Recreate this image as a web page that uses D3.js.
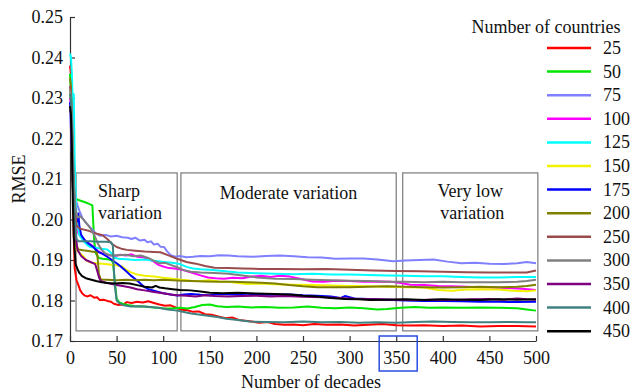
<!DOCTYPE html>
<html>
<head>
<meta charset="utf-8">
<script src="https://cdn.jsdelivr.net/npm/d3@7"></script>
<style>
  body { margin: 0; background: #fff; }
  text { font-family: "Liberation Serif", "Times New Roman", serif; fill: #111; }
</style>
</head>
<body>
<div id="chart"></div>
<script>
// number of countries (legend) and line colours
const counts = [25, 50, 75, 100, 125, 150, 175, 200, 250, 300, 350, 400, 450];
const colors = ["#ff0000", "#00e600", "#8080ff", "#ff00ff", "#00ffff", "#f2f200", "#0000ff",
  "#808000", "#9a4c4c", "#808080", "#800080", "#408080", "#000000"];

const xTicks = [0, 50, 100, 150, 200, 250, 300, 350, 400, 450, 500];
const yTicks = [0.17, 0.18, 0.19, 0.20, 0.21, 0.22, 0.23, 0.24, 0.25];

// RMSE per number of decades, [decade, rmse]
const s25 = [[0,0.238],[1,0.236],[2,0.225],[3,0.21],[4,0.196],[5,0.188],[7,0.185],[9,0.1838],[11,0.1825],[13,0.1818],[16,0.1812],[19,0.181],[22,0.1813],[26,0.1807],[29,0.1808],[32,0.1801],[36,0.1802],[40,0.1799],[44,0.1797],[47,0.1792],[52,0.1789],[57,0.179],[61,0.1796],[66,0.1794],[72,0.1797],[78,0.1795],[84,0.1798],[90,0.1794],[96,0.179],[102,0.1787],[108,0.1788],[114,0.1782],[120,0.1777],[126,0.1776],[132,0.1772],[138,0.1773],[145,0.1766],[152,0.1765],[160,0.176],[167,0.1756],[174,0.1758],[181,0.1752],[188,0.175],[195,0.1748],[203,0.1745],[212,0.1747],[220,0.1742],[230,0.174],[240,0.1741],[250,0.1739],[262,0.1742],[275,0.174],[290,0.1741],[305,0.1738],[320,0.174],[335,0.1742],[350,0.1739],[365,0.1738],[380,0.1739],[400,0.1737],[420,0.1738],[440,0.1736],[460,0.1737],[480,0.1737],[500,0.1736]];
const s50 = [[0,0.236],[1,0.232],[2,0.222],[3,0.213],[4,0.207],[5,0.2055],[6,0.2052],[9,0.2048],[13,0.2045],[17,0.2042],[21,0.2038],[24,0.2035],[25,0.199],[26,0.1945],[28,0.1915],[31,0.1905],[35,0.1903],[40,0.1902],[44,0.19],[46,0.1895],[48,0.185],[50,0.1805],[53,0.1795],[58,0.1791],[64,0.1788],[70,0.1786],[80,0.1785],[90,0.1783],[100,0.1781],[110,0.178],[118,0.1782],[126,0.178],[134,0.1784],[142,0.1789],[150,0.179],[158,0.1786],[168,0.1784],[180,0.1785],[195,0.1783],[210,0.1784],[225,0.1782],[240,0.1783],[255,0.1785],[270,0.1782],[285,0.1781],[300,0.1783],[315,0.1781],[330,0.1778],[340,0.1779],[355,0.1782],[370,0.1784],[385,0.1782],[400,0.1783],[420,0.1782],[440,0.1783],[460,0.1782],[480,0.1781],[490,0.1778],[500,0.1775]];
const s75 = [[0,0.226],[1,0.222],[2,0.217],[4,0.209],[6,0.205],[8,0.2035],[10,0.2022],[13,0.2005],[16,0.1995],[20,0.1985],[24,0.1975],[28,0.1965],[32,0.196],[38,0.1962],[44,0.1958],[50,0.196],[56,0.1956],[62,0.1955],[66,0.1952],[70,0.1955],[75,0.1948],[80,0.195],[83,0.1944],[87,0.1946],[90,0.1938],[94,0.194],[97,0.1933],[101,0.1932],[104,0.1922],[108,0.1912],[113,0.1908],[118,0.191],[125,0.1907],[132,0.1908],[140,0.191],[150,0.1909],[160,0.1912],[170,0.1911],[180,0.1909],[195,0.1908],[210,0.191],[225,0.1911],[240,0.1909],[255,0.1907],[270,0.1906],[285,0.1903],[300,0.1904],[315,0.1904],[330,0.1901],[347,0.1897],[360,0.1899],[375,0.19],[390,0.1901],[405,0.1896],[420,0.1892],[435,0.1893],[450,0.1891],[465,0.189],[480,0.1892],[490,0.1895],[500,0.1892]];
const s100 = [[0,0.23],[1,0.228],[2,0.22],[4,0.207],[6,0.2],[9,0.1965],[13,0.1955],[18,0.1945],[24,0.1935],[30,0.1922],[36,0.1915],[42,0.1912],[48,0.191],[54,0.1913],[60,0.1911],[66,0.1914],[72,0.1908],[78,0.1907],[84,0.1902],[90,0.1896],[95,0.1888],[100,0.1884],[106,0.188],[112,0.1879],[118,0.1877],[125,0.1873],[132,0.1868],[140,0.1862],[148,0.1857],[156,0.1855],[165,0.1854],[175,0.1856],[185,0.1855],[195,0.1859],[205,0.1861],[215,0.1858],[225,0.1861],[236,0.1859],[248,0.1853],[260,0.1847],[272,0.1846],[285,0.1849],[300,0.1848],[315,0.1846],[330,0.1847],[345,0.1846],[355,0.1843],[365,0.1839],[380,0.1838],[395,0.1836],[410,0.1835],[425,0.1834],[440,0.1833],[455,0.1832],[470,0.1831],[485,0.1829],[500,0.1826]];
const s125 = [[0,0.241],[1,0.24],[2,0.236],[3,0.228],[4,0.231],[5,0.215],[7,0.2],[10,0.1962],[14,0.1948],[18,0.1938],[22,0.1932],[28,0.193],[34,0.1928],[40,0.1926],[44,0.1918],[47,0.1906],[52,0.1903],[60,0.1902],[70,0.19],[80,0.1901],[90,0.1898],[101,0.1895],[110,0.1893],[118,0.189],[125,0.1883],[132,0.1879],[140,0.1877],[150,0.1876],[164,0.1873],[180,0.1869],[200,0.1867],[220,0.1866],[240,0.1865],[260,0.1866],[280,0.1864],[300,0.1864],[320,0.1863],[340,0.1862],[360,0.1861],[380,0.186],[400,0.186],[420,0.1858],[440,0.1857],[460,0.1857],[480,0.1858],[500,0.1858]];
const s150 = [[0,0.232],[1,0.23],[2,0.222],[3,0.21],[5,0.197],[7,0.1925],[10,0.1918],[14,0.191],[18,0.1898],[22,0.1894],[28,0.1892],[35,0.1891],[42,0.1889],[50,0.1887],[56,0.1884],[60,0.1876],[65,0.187],[72,0.1864],[80,0.1861],[90,0.1859],[100,0.1856],[110,0.1854],[120,0.1851],[130,0.1849],[140,0.1848],[150,0.185],[160,0.1847],[170,0.1846],[180,0.1843],[190,0.1841],[205,0.1842],[220,0.184],[240,0.1839],[260,0.1838],[280,0.1837],[300,0.1836],[320,0.1835],[340,0.1834],[360,0.1833],[380,0.1832],[395,0.1826],[410,0.1824],[425,0.1827],[440,0.1828],[460,0.1827],[475,0.1824],[490,0.1823],[500,0.1825]];
const s175 = [[0,0.229],[1,0.226],[2,0.218],[4,0.207],[6,0.2015],[8,0.1995],[9,0.2015],[10,0.1985],[12,0.1962],[16,0.1948],[20,0.194],[25,0.1932],[30,0.192],[35,0.1915],[40,0.1908],[45,0.19],[50,0.1892],[55,0.1883],[60,0.1873],[65,0.1862],[70,0.1853],[75,0.1843],[80,0.1833],[85,0.1827],[92,0.1823],[100,0.1818],[108,0.1815],[115,0.1812],[122,0.1815],[130,0.1816],[140,0.1814],[150,0.1813],[160,0.1816],[175,0.1815],[190,0.1813],[205,0.1815],[220,0.1814],[236,0.1815],[250,0.1813],[265,0.1812],[280,0.181],[290,0.1806],[295,0.1811],[305,0.1805],[320,0.1804],[340,0.1802],[360,0.18],[380,0.1799],[400,0.1799],[420,0.1798],[440,0.1797],[460,0.1797],[480,0.1796],[500,0.1797]];
const s200 = [[0,0.235],[1,0.233],[2,0.224],[3,0.213],[5,0.2],[7,0.1935],[9,0.1926],[14,0.1924],[20,0.1922],[26,0.192],[29,0.1918],[30,0.1895],[31,0.1865],[33,0.1852],[40,0.1851],[50,0.185],[60,0.1851],[70,0.185],[80,0.1851],[90,0.185],[100,0.1851],[110,0.185],[120,0.1849],[130,0.1848],[145,0.1847],[160,0.1846],[175,0.1846],[190,0.1845],[205,0.1844],[220,0.1842],[235,0.1838],[250,0.1835],[265,0.1833],[280,0.1833],[300,0.1833],[320,0.1834],[340,0.1835],[360,0.1834],[380,0.1833],[400,0.1832],[420,0.1833],[440,0.1834],[460,0.1833],[480,0.1834],[490,0.1836],[500,0.1839]];
const s250 = [[0,0.233],[1,0.231],[2,0.224],[3,0.215],[5,0.204],[7,0.1985],[10,0.1978],[15,0.1975],[20,0.1972],[25,0.1968],[30,0.1964],[35,0.1961],[40,0.1952],[45,0.194],[50,0.1932],[55,0.1928],[61,0.1925],[70,0.1923],[80,0.1921],[90,0.192],[97,0.1919],[105,0.1912],[115,0.1903],[125,0.1895],[135,0.1891],[145,0.1885],[155,0.1881],[170,0.188],[185,0.1879],[204,0.1878],[225,0.1878],[250,0.1877],[275,0.1878],[300,0.1876],[325,0.1874],[350,0.1873],[375,0.1872],[400,0.1871],[425,0.187],[450,0.1869],[475,0.1869],[490,0.1869],[500,0.1874]];
const s300 = [[0,0.232],[1,0.23],[2,0.228],[3,0.22],[4,0.21],[6,0.2025],[8,0.2005],[11,0.2008],[14,0.2001],[18,0.199],[22,0.1978],[26,0.1962],[30,0.194],[34,0.1925],[38,0.1916],[44,0.1911],[52,0.1912],[60,0.1913],[68,0.1909],[76,0.1911],[84,0.1905],[90,0.1898],[96,0.1892],[102,0.1893],[108,0.1888],[115,0.1882],[122,0.1875],[130,0.1871],[140,0.1869],[155,0.1868],[170,0.1866],[185,0.1862],[200,0.1857],[220,0.1854],[240,0.1853],[260,0.1851],[280,0.185],[300,0.1849],[320,0.1848],[340,0.1846],[360,0.1846],[380,0.1845],[400,0.1846],[420,0.1845],[440,0.1845],[460,0.1845],[480,0.1846],[490,0.1848],[500,0.1851]];
const s350 = [[0,0.227],[1,0.226],[2,0.218],[3,0.208],[5,0.198],[8,0.1925],[12,0.191],[17,0.19],[22,0.1895],[27,0.189],[29,0.1875],[31,0.1858],[33,0.1848],[40,0.1843],[50,0.1838],[58,0.1835],[65,0.1832],[72,0.1828],[80,0.1825],[90,0.1821],[100,0.1818],[108,0.1815],[115,0.1813],[125,0.1812],[135,0.181],[145,0.1813],[155,0.1811],[170,0.181],[185,0.1811],[200,0.1812],[215,0.181],[230,0.1811],[250,0.1809],[270,0.1808],[290,0.1806],[310,0.1804],[330,0.1803],[350,0.1802],[370,0.1801],[390,0.1802],[410,0.1801],[430,0.1803],[450,0.1804],[465,0.1802],[480,0.1805],[490,0.1803],[500,0.1802]];
const s400 = [[0,0.231],[1,0.229],[2,0.221],[3,0.21],[5,0.2],[7,0.1952],[9,0.1946],[15,0.1946],[22,0.1946],[30,0.1945],[38,0.1945],[44,0.1944],[46,0.1935],[47,0.188],[48,0.184],[50,0.18],[53,0.1793],[58,0.1788],[65,0.1785],[75,0.1786],[86,0.1784],[95,0.1782],[105,0.1778],[115,0.1775],[121,0.1772],[130,0.1768],[140,0.1765],[150,0.1762],[158,0.1759],[168,0.1755],[180,0.1752],[193,0.1748],[210,0.1747],[230,0.1746],[250,0.1748],[270,0.1746],[290,0.1747],[310,0.1745],[330,0.1746],[350,0.1745],[370,0.1747],[390,0.1748],[410,0.1747],[430,0.1746],[450,0.1746],[470,0.1747],[490,0.1746],[500,0.1746]];
const s450 = [[0,0.228],[1,0.226],[2,0.218],[3,0.205],[4,0.196],[6,0.189],[8,0.1878],[10,0.1868],[13,0.186],[17,0.1855],[22,0.1852],[28,0.1848],[34,0.1845],[40,0.1843],[48,0.1842],[56,0.1843],[64,0.1842],[72,0.1838],[80,0.1834],[88,0.1832],[92,0.1836],[96,0.1832],[102,0.183],[110,0.1828],[118,0.1826],[129,0.1825],[140,0.1822],[150,0.1819],[164,0.1818],[180,0.1819],[200,0.1817],[220,0.1816],[236,0.1815],[250,0.1812],[265,0.181],[280,0.1806],[295,0.1804],[310,0.1803],[322,0.1801],[340,0.1802],[360,0.1803],[380,0.1801],[400,0.1803],[420,0.1802],[440,0.1801],[460,0.1803],[480,0.1802],[500,0.1803]];

const seriesValues = [s25, s50, s75, s100, s125, s150, s175, s200, s250, s300, s350, s400, s450];

// annotated phases: label lines, decade span, rmse span
const regionLabels = [["Sharp", "variation"], ["Moderate variation"], ["Very low", "variation"]];
const regionStart = [6.5, 119, 357];
const regionEnd = [115, 350, 502];
const regionLow = 0.1725;
const regionHigh = 0.2115;

const width = 633, height = 392;
const margin = { top: 17, right: 97, bottom: 51, left: 70 };

const svg = d3.select("#chart").append("svg")
  .attr("width", width)
  .attr("height", height);

svg.append("rect").attr("width", width).attr("height", height).attr("fill", "#fff");

const x = d3.scaleLinear().domain([0, 500]).range([margin.left, width - margin.right]);
const y = d3.scaleLinear().domain([0.17, 0.25]).range([height - margin.bottom, margin.top]);

// region boxes
regionLabels.forEach(function (lines, i) {
  svg.append("rect")
    .attr("x", x(regionStart[i]))
    .attr("y", y(regionHigh))
    .attr("width", x(regionEnd[i]) - x(regionStart[i]))
    .attr("height", y(regionLow) - y(regionHigh))
    .attr("fill", "none")
    .attr("stroke", "#7a7a7a")
    .attr("stroke-width", 1.2);
});

// axes
const xAxis = svg.append("g")
  .attr("transform", "translate(0," + (height - margin.bottom) + ")")
  .call(d3.axisBottom(x).tickValues(xTicks).tickSize(-5).tickSizeOuter(0).tickPadding(10));
const yAxis = svg.append("g")
  .attr("transform", "translate(" + margin.left + ",0)")
  .call(d3.axisLeft(y).tickValues(yTicks).tickFormat(d3.format(".2f")).tickSize(-5).tickSizeOuter(0).tickPadding(7));

[xAxis, yAxis].forEach(function (a) {
  a.selectAll("path, line").attr("stroke", "#333").attr("stroke-width", 1.2);
  a.selectAll("text").attr("font-family", "Liberation Serif, serif").attr("font-size", 18).attr("fill", "#111");
});

// lines (drawn over the axes, as in the original)
const line = d3.line()
  .x(function (d) { return x(d[0]); })
  .y(function (d) { return y(d[1]); });

svg.append("g").selectAll("path")
  .data(seriesValues)
  .enter()
  .append("path")
  .attr("d", line)
  .attr("fill", "none")
  .attr("stroke", function (d, i) { return colors[i]; })
  .attr("stroke-width", 2)
  .attr("stroke-linejoin", "round");

// region labels
svg.append("text").attr("x", x(regionStart[0]) + 22).attr("y", 197).attr("font-size", 18).text(regionLabels[0][0]);
svg.append("text").attr("x", x(regionStart[0]) + 22).attr("y", 219).attr("font-size", 18).text(regionLabels[0][1]);
svg.append("text").attr("x", (x(regionStart[1]) + x(regionEnd[1])) / 2).attr("y", 199)
  .attr("text-anchor", "middle").attr("font-size", 18).text(regionLabels[1][0]);
svg.append("text").attr("x", (x(regionStart[2]) + x(regionEnd[2])) / 2).attr("y", 197)
  .attr("text-anchor", "middle").attr("font-size", 18).text(regionLabels[2][0]);
svg.append("text").attr("x", (x(regionStart[2]) + x(regionEnd[2])) / 2 + 2).attr("y", 219)
  .attr("text-anchor", "middle").attr("font-size", 18).text(regionLabels[2][1]);

// highlight around the 350 tick label
svg.append("rect")
  .attr("x", x(350) - 17)
  .attr("y", 336)
  .attr("width", 38)
  .attr("height", 35)
  .attr("fill", "none")
  .attr("stroke", "#2a4de0")
  .attr("stroke-width", 1.5);

// axis titles
svg.append("text")
  .attr("x", 311).attr("y", 388)
  .attr("text-anchor", "middle").attr("font-size", 18)
  .text("Number of decades");
svg.append("text")
  .attr("transform", "translate(25,179) rotate(-90)")
  .attr("text-anchor", "middle").attr("font-size", 18)
  .text("RMSE");

// legend
const legend = svg.append("g");
legend.append("text").attr("x", 546).attr("y", 33).attr("text-anchor", "middle").attr("font-size", 18)
  .text("Number of countries");
const entry = legend.selectAll("g.entry")
  .data(counts)
  .enter()
  .append("g")
  .attr("class", "entry")
  .attr("transform", function (d, i) { return "translate(0," + (48 + i * 23.6) + ")"; });
entry.append("line")
  .attr("x1", 547).attr("x2", 591)
  .attr("stroke", function (d, i) { return colors[i]; })
  .attr("stroke-width", 2.5);
entry.append("text")
  .attr("x", 603).attr("y", 6)
  .attr("font-size", 18)
  .text(function (d) { return d; });
</script>
</body>
</html>
